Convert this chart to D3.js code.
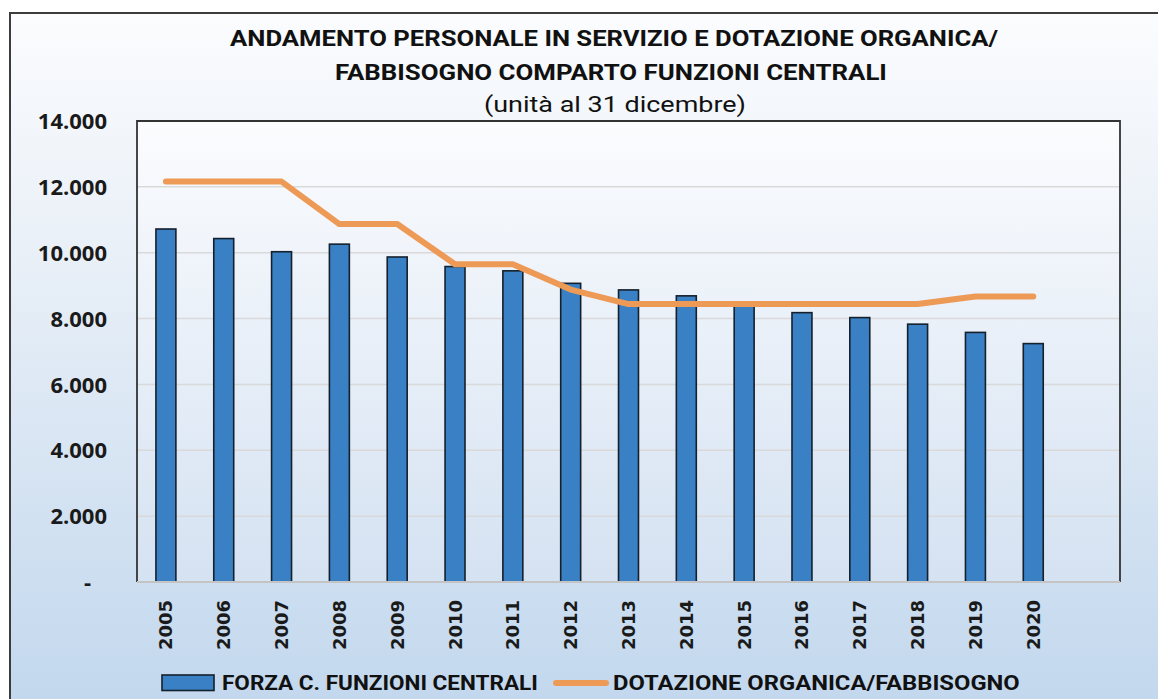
<!DOCTYPE html>
<html>
<head>
<meta charset="utf-8">
<script src="https://cdn.jsdelivr.net/npm/d3@7"></script>
<style>
html,body{margin:0;padding:0;background:#fff;}
svg{display:block;}
</style>
</head>
<body>
<svg id="chart" width="1158" height="699"></svg>
<script>
// ---- data ----
const years = ["2005","2006","2007","2008","2009","2010","2011","2012","2013","2014","2015","2016","2017","2018","2019","2020"];
const forzaValues = [10720, 10430, 10030, 10260, 9870, 9580, 9450, 9070, 8870, 8690, 8380, 8180, 8030, 7830, 7580, 7240];
const dotazioneValues = [12160, 12160, 12160, 10870, 10870, 9650, 9650, 8880, 8440, 8440, 8440, 8440, 8440, 8440, 8670, 8670];
const yTicks = [0, 2000, 4000, 6000, 8000, 10000, 12000, 14000];
const titleLines = ["ANDAMENTO PERSONALE IN SERVIZIO E DOTAZIONE ORGANICA/", "FABBISOGNO COMPARTO FUNZIONI CENTRALI"];
const subtitle = "(unità al 31 dicembre)";
const legendLabels = ["FORZA C. FUNZIONI CENTRALI", "DOTAZIONE ORGANICA/FABBISOGNO"];
const extraSlot = [""]; // empty trailing category in original chart

const W = 1158, H = 699;
const svg = d3.select("#chart");
const defs = svg.append("defs");

const bg = defs.append("linearGradient").attr("id","bg").attr("x1",0).attr("y1",0).attr("x2",0).attr("y2",1);
bg.append("stop").attr("offset","0%").attr("stop-color","#fbfcfe");
bg.append("stop").attr("offset","30%").attr("stop-color","#ebf1f8");
bg.append("stop").attr("offset","100%").attr("stop-color","#c0d6ed");

const pg = defs.append("linearGradient").attr("id","pg").attr("x1",0).attr("y1",0).attr("x2",0).attr("y2",1);
pg.append("stop").attr("offset","0%").attr("stop-color","#fbfcfe");
pg.append("stop").attr("offset","100%").attr("stop-color","#d5e2f2");

svg.append("rect").attr("x",0).attr("y",0).attr("width",W).attr("height",H).attr("fill","#ffffff");
svg.append("rect").attr("x",10).attr("y",13).attr("width",W+20).attr("height",H+20)
  .attr("fill","url(#bg)").attr("stroke","#3c3c3c").attr("stroke-width",2);

const plot = {left:137, top:121, right:1120, bottom:582};

const x = d3.scaleBand().domain(years.concat(extraSlot))
  .range([plot.left, plot.right]).paddingInner(0.655).paddingOuter(0.3275);
const y = d3.scaleLinear().domain([0, 14000]).range([plot.bottom, plot.top]);

svg.append("rect").attr("x",plot.left).attr("y",plot.top)
  .attr("width",plot.right-plot.left).attr("height",plot.bottom-plot.top)
  .attr("fill","url(#pg)");

// gridlines
svg.append("g").selectAll("line").data(yTicks.filter(d => d > 0 && d < 14000)).join("line")
  .attr("x1",plot.left).attr("x2",plot.right)
  .attr("y1",d => y(d)).attr("y2",d => y(d))
  .attr("stroke","#d9d9d9").attr("stroke-width",1.5);

// plot border (top, left, right dark)
svg.append("path")
  .attr("d",`M${plot.left},${plot.bottom}V${plot.top}H${plot.right}V${plot.bottom}`)
  .attr("fill","none").attr("stroke","#333").attr("stroke-width",1.8);

// bars
svg.append("g").selectAll("rect").data(years).join("rect")
  .attr("x",d => x(d)).attr("width",x.bandwidth())
  .attr("y",(d,i) => y(forzaValues[i])).attr("height",(d,i) => y(0)-y(forzaValues[i]))
  .attr("fill","#3a80c5").attr("stroke","#14202c").attr("stroke-width",1.6);

// x axis line
svg.append("line").attr("x1",plot.left).attr("x2",plot.right)
  .attr("y1",plot.bottom).attr("y2",plot.bottom)
  .attr("stroke","#c4c4c4").attr("stroke-width",1.8);

// line series
const line = d3.line()
  .x((d,i) => x(years[i]) + x.bandwidth()/2)
  .y(d => y(d))
  .curve(d3.curveLinear);
svg.append("path").datum(dotazioneValues).attr("d",line)
  .attr("fill","none").attr("stroke","#ee9a57").attr("stroke-width",6)
  .attr("stroke-linecap","round").attr("stroke-linejoin","round");

// y axis labels
const loc = d3.formatLocale({decimal:",", thousands:".", grouping:[3], currency:["",""]});
const fmt = loc.format(",d");
const yAxis = d3.axisLeft(y).tickValues(yTicks).tickSize(0).tickPadding(0)
  .tickFormat(d => d === 0 ? "-" : fmt(d));
const yg = svg.append("g").attr("transform",`translate(${107},0)`).call(yAxis);
yg.select(".domain").remove();
yg.selectAll("text").attr("font-family","'Open Sans', 'Noto Sans', sans-serif")
  .attr("font-weight","bold").attr("font-size","22px").attr("fill","#1a1a1a")
  .attr("dy","0.35em");
yg.selectAll(".tick").filter(d => d === 0).select("text").attr("dx","-16");

// x axis labels (rotated)
svg.append("g").selectAll("text").data(years).join("text")
  .attr("transform",d => `translate(${x(d)+x.bandwidth()/2},600) rotate(-90)`)
  .attr("text-anchor","end").attr("dy","0.36em")
  .attr("font-family","'DejaVu Sans', Verdana, sans-serif").attr("font-weight","bold")
  .attr("font-size","18px").attr("fill","#1a1a1a")
  .text(d => d);

// text drawn at a given size, horizontally condensed to a target width
function condensedText(txt, cx, by, size, weight, target, anchor){
  const g = svg.append("g");
  const t = g.append("text").attr("x",0).attr("y",0).attr("text-anchor",anchor)
    .attr("font-family","Roboto, 'Open Sans', sans-serif").attr("font-weight",weight)
    .attr("font-size",size+"px").attr("fill","#111").text(txt);
  const w = t.node().getComputedTextLength();
  g.attr("transform",`translate(${cx},${by}) scale(${(target/w).toFixed(4)},1)`);
  return t;
}

// title
condensedText(titleLines[0], 614, 46, 22.5, "bold", 768, "middle");
condensedText(titleLines[1], 611, 80, 22.5, "bold", 552, "middle");
condensedText(subtitle, 615, 112, 22.5, "normal", 262, "middle");

// legend
svg.append("rect").attr("x",162).attr("y",675).attr("width",52).attr("height",15.5)
  .attr("fill","#3a80c5").attr("stroke","#14202c").attr("stroke-width",1.6);
condensedText(legendLabels[0], 222, 690, 21, "bold", 316, "start");
svg.append("line").attr("x1",556).attr("x2",606).attr("y1",683).attr("y2",683)
  .attr("stroke","#ee9a57").attr("stroke-width",6).attr("stroke-linecap","round");
condensedText(legendLabels[1], 613, 690, 21, "bold", 407, "start");
</script>
</body>
</html>
